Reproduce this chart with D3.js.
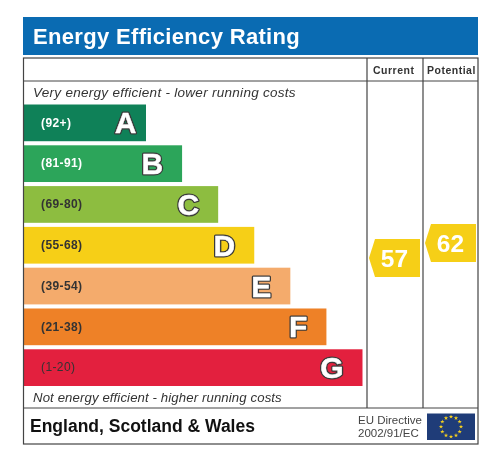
<!DOCTYPE html>
<html>
<head>
<meta charset="utf-8">
<script src="https://cdn.jsdelivr.net/npm/d3@7/dist/d3.min.js"></script>
<style>
  html, body { margin: 0; padding: 0; background: #fff; }
  svg { display: block; filter: blur(0.35px); }
  text { font-family: "Liberation Sans", Arial, sans-serif; }
</style>
</head>
<body>
<svg width="494" height="455"></svg>
<script>
const bandLetters = ['A', 'B', 'C', 'D', 'E', 'F', 'G'];
const bandRanges = ['(92+)', '(81-91)', '(69-80)', '(55-68)', '(39-54)', '(21-38)', '(1-20)'];
const bandSteps = [1, 2, 3, 4, 5, 6, 7];
const bandColors = ['#0f8158', '#2ca55a', '#8dbd40', '#f6cf17', '#f4ab6c', '#ee8127', '#e3203e'];
const bandRangeColors = ['#fff', '#fff', '#333', '#333', '#333', '#333', '#333'];
const columnNames = ['Current', 'Potential'];
const ratings = [57, 62];

const svg = d3.select('svg');

const frameLeft = 23.5, frameRight = 478, frameTop = 58, frameBottom = 444;
const rowHead = 81, rowFoot = 408;
const colX = [367, 423, 478];

// bars
const y = d3.scaleBand().domain(bandLetters).range([104.5, 386]).paddingInner(0.1).paddingOuter(0);
const barEnd = d3.scaleLinear().domain([1, 7]).range([146, 362.5]);
// rating pointers sit on a 3px per point scale
const ratingY = d3.scaleLinear().domain([0, 100]).range([429, 129]);

svg.append('rect').attr('x', 23).attr('y', 17).attr('width', 455).attr('height', 38).attr('fill', '#0a6bb2');
svg.append('text').attr('x', 33).attr('y', 43.5).attr('fill', '#fff')
  .attr('font-size', 22).attr('font-weight', 'bold').attr('letter-spacing', 0.33)
  .text('Energy Efficiency Rating');

const bars = svg.append('g').selectAll('g').data(bandLetters).join('g');

bars.append('rect')
  .attr('x', frameLeft)
  .attr('y', d => y(d))
  .attr('width', (d, i) => barEnd(bandSteps[i]) - frameLeft)
  .attr('height', y.bandwidth())
  .attr('fill', (d, i) => bandColors[i]);

bars.append('text')
  .attr('x', 41)
  .attr('y', d => y(d) + y.bandwidth() / 2 + 3.7)
  .attr('font-size', 12)
  .attr('font-weight', (d, i) => i == 6 ? 'normal' : 'bold')
  .attr('letter-spacing', 0.4)
  .attr('fill', (d, i) => bandRangeColors[i])
  .text((d, i) => bandRanges[i]);

// letters are outlined: dark stroke underneath, thin white on top
function letter(strokeColor, strokeWidth) {
  bars.append('text')
    .attr('x', (d, i) => barEnd(bandSteps[i]) - (i == 0 ? 9.5 : 19))
    .attr('y', d => y(d) + y.bandwidth() / 2 + 10.5)
    .attr('text-anchor', 'end')
    .attr('font-size', 30)
    .attr('font-weight', 'bold')
    .attr('fill', '#fff')
    .attr('stroke', strokeColor)
    .attr('stroke-width', strokeWidth)
    .attr('stroke-linejoin', 'round')
    .text(d => d);
}
letter('#3a3a3a', 3);
letter('#fff', 0.4);

// frame and grid
const grid = svg.append('g').attr('stroke', '#444').attr('fill', 'none');
grid.append('rect').attr('x', frameLeft).attr('y', frameTop).attr('width', frameRight - frameLeft).attr('height', frameBottom - frameTop).attr('stroke-width', 1.2);
grid.selectAll('.h').data([rowHead, rowFoot]).join('line')
  .attr('x1', frameLeft).attr('x2', frameRight).attr('y1', d => d).attr('y2', d => d).attr('stroke-width', 1);
grid.selectAll('.v').data(colX.slice(0, 2)).join('line')
  .attr('x1', d => d).attr('x2', d => d).attr('y1', frameTop).attr('y2', rowFoot).attr('stroke-width', 1.2);

svg.selectAll('.col').data(columnNames).join('text')
  .attr('x', (d, i) => colX[i] + (i == 0 ? 6 : 4))
  .attr('y', 74)
  .attr('font-size', 10.5)
  .attr('font-weight', 'bold')
  .attr('letter-spacing', 0.5)
  .attr('fill', '#333')
  .text(d => d);

svg.append('text').attr('x', 33).attr('y', 97).attr('font-size', 13.5).attr('font-style', 'italic')
  .attr('letter-spacing', 0.28).attr('fill', '#333').text('Very energy efficient - lower running costs');
svg.append('text').attr('x', 33).attr('y', 402).attr('font-size', 13.2).attr('font-style', 'italic')
  .attr('letter-spacing', 0.11).attr('fill', '#333').text('Not energy efficient - higher running costs');

// rating pointers
const pointer = svg.selectAll('.pointer').data(ratings).join('g')
  .attr('transform', (d, i) => `translate(${colX[i] + 2},${ratingY(d)})`);
pointer.append('path')
  .attr('d', 'M0,0L6,-19H51V19H6Z')
  .attr('fill', '#f6cf17');
pointer.append('text')
  .attr('x', 25.5)
  .attr('y', 9)
  .attr('text-anchor', 'middle')
  .attr('font-size', 24.5)
  .attr('font-weight', 'bold')
  .attr('fill', '#fff')
  .text(d => d);

// footer
svg.append('text').attr('x', 30).attr('y', 432).attr('font-size', 17.5).attr('font-weight', 'bold')
  .attr('fill', '#111').text('England, Scotland & Wales');
svg.append('text').attr('x', 358).attr('y', 424).attr('font-size', 11.5).attr('fill', '#444').text('EU Directive');
svg.append('text').attr('x', 358).attr('y', 437.3).attr('font-size', 11.5).attr('fill', '#444').text('2002/91/EC');

svg.append('rect').attr('x', 427).attr('y', 413.5).attr('width', 48).attr('height', 26.5).attr('fill', '#1f3c78');
const starAngles = d3.range(12).map(i => i * Math.PI / 6);
svg.selectAll('.star').data(starAngles).join('path')
  .attr('d', d3.symbol(d3.symbolStar, 6))
  .attr('fill', '#f5d020')
  .attr('transform', d => `translate(${451 + 10 * Math.sin(d)},${426.7 - 10 * Math.cos(d)})`);
</script>
</body>
</html>
